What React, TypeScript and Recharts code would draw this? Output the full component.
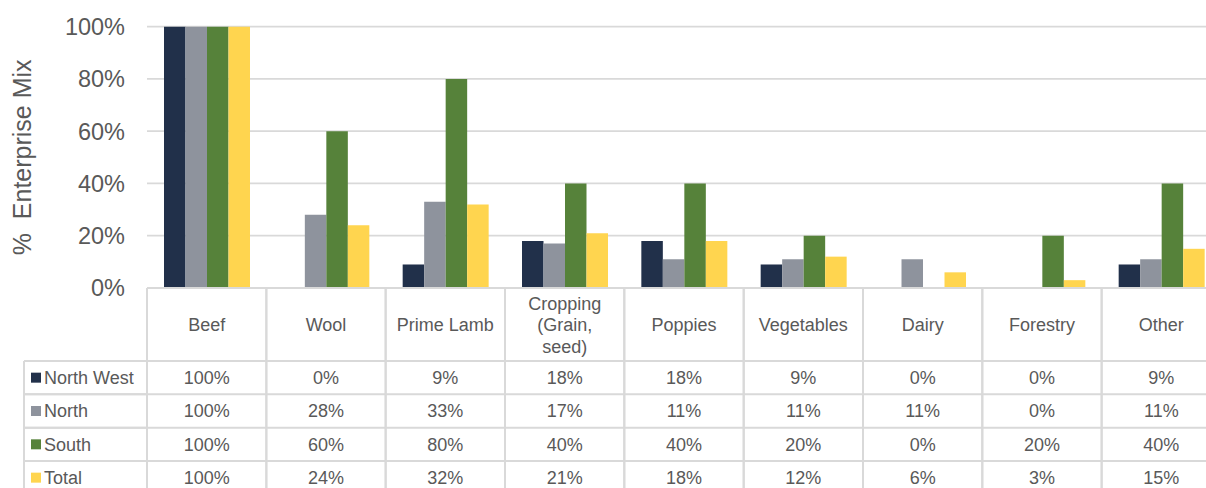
import React from 'react';
import { BarChart, Bar, XAxis, YAxis, CartesianGrid } from 'recharts';

const categories = ['Beef', 'Wool', 'Prime Lamb', 'Cropping\n(Grain,\nseed)', 'Poppies', 'Vegetables', 'Dairy', 'Forestry', 'Other'];
const northWest = [100, 0, 9, 18, 18, 9, 0, 0, 9];
const north = [100, 28, 33, 17, 11, 11, 11, 0, 11];
const south = [100, 60, 80, 40, 40, 20, 0, 20, 40];
const total = [100, 24, 32, 21, 18, 12, 6, 3, 15];
const yTicks = [0, 20, 40, 60, 80, 100];

const seriesNames = ['North West', 'North', 'South', 'Total'];
const seriesKeys = ['northWest', 'north', 'south', 'total'];
const seriesColors = ['#21304a', '#8e939d', '#56823a', '#ffd54f'];

const data = categories.map((name, i) => ({
  name,
  northWest: northWest[i],
  north: north[i],
  south: south[i],
  total: total[i],
}));

const FONT = '"Liberation Sans", Arial, sans-serif';
const TEXT = '#595959';
const LINE = '#d9d9d9';
const HEADER_H = 73;
const ROW_H = 33.33;
const LEGEND_LEFT = 24;

const TableColumn = (props: any) => {
  const { x, y, payload, width } = props;
  const idx = categories.indexOf(payload.value);
  const band = (width || 1074) / categories.length;
  const left = x - band / 2;
  const right = x + band / 2;
  const lines = String(payload.value).split('\n');
  const lineH = 21.4;
  const headerMid = y + 37;
  const bottom = y + HEADER_H + ROW_H * seriesKeys.length + 10;

  return (
    <g fontFamily={FONT}>
      <line x1={left} y1={y} x2={left} y2={bottom} stroke={LINE} strokeWidth={2} />
      <line x1={right} y1={y} x2={right} y2={bottom} stroke={LINE} strokeWidth={2} />
      {lines.map((l, k) => (
        <text
          key={k}
          x={x}
          y={headerMid + (k - (lines.length - 1) / 2) * lineH + 6.3}
          textAnchor="middle"
          fontSize={18}
          fill={TEXT}
        >
          {l}
        </text>
      ))}
      {seriesKeys.map((key, r) => {
        const rowTop = y + HEADER_H + r * ROW_H;
        return (
          <g key={key}>
            <line x1={left} y1={rowTop} x2={right} y2={rowTop} stroke={LINE} strokeWidth={2} />
            <text x={x} y={rowTop + ROW_H / 2 + 6.3} textAnchor="middle" fontSize={18} fill={TEXT}>
              {(data[idx] as any)[key]}%
            </text>
          </g>
        );
      })}
      {idx === 0 && (
        <g>
          <line x1={LEGEND_LEFT} y1={y + HEADER_H} x2={LEGEND_LEFT} y2={bottom} stroke={LINE} strokeWidth={2} />
          {seriesKeys.map((key, r) => {
            const rowTop = y + HEADER_H + r * ROW_H;
            return (
              <g key={key}>
                <line x1={LEGEND_LEFT} y1={rowTop} x2={left} y2={rowTop} stroke={LINE} strokeWidth={2} />
                <line x1={LEGEND_LEFT} y1={rowTop + ROW_H} x2={left} y2={rowTop + ROW_H} stroke={LINE} strokeWidth={2} />
                <rect x={31} y={rowTop + ROW_H / 2 - 5} width={10} height={10} fill={seriesColors[r]} />
                <text x={44} y={rowTop + ROW_H / 2 + 6.3} fontSize={18} fill={TEXT}>
                  {seriesNames[r]}
                </text>
              </g>
            );
          })}
        </g>
      )}
    </g>
  );
};

const YLabel = (props: any) => {
  const { viewBox } = props;
  const cy = viewBox.y + viewBox.height / 2;
  return (
    <text
      x={22}
      y={cy}
      transform={`rotate(-90, 22, ${cy})`}
      textAnchor="middle"
      dominantBaseline="central"
      fontSize={25}
      fontFamily={FONT}
      fill={TEXT}
      style={{ whiteSpace: 'pre' }}
    >
      {'%  Enterprise Mix'}
    </text>
  );
};

export default function App() {
  return (
    <div
      style={{
        position: 'absolute',
        left: 0,
        top: 0,
        width: 1206,
        height: 488,
        overflow: 'hidden',
        background: '#fff',
        fontFamily: FONT,
      }}
    >
      <BarChart
        width={1221}
        height={500}
        data={data}
        margin={{ top: 26.7, right: 0, bottom: 0, left: 0 }}
        barGap={0}
        barSize={21.5}
      >
        <CartesianGrid vertical={false} stroke={LINE} strokeWidth={1.75} />
        <YAxis
          width={147}
          domain={[0, 100]}
          ticks={yTicks}
          tickFormatter={(v: number) => `${v}%`}
          axisLine={false}
          tickLine={false}
          tickSize={0}
          tickMargin={22}
          tick={{ fontSize: 23.5, fill: TEXT, fontFamily: FONT }}
          label={<YLabel />}
        />
        <XAxis
          dataKey="name"
          height={212}
          interval={0}
          axisLine={{ stroke: LINE, strokeWidth: 2 }}
          tickLine={false}
          tickSize={0}
          tickMargin={0}
          tick={(p: any) => <TableColumn {...p} />}
        />
        {seriesKeys.map((key, i) => (
          <Bar key={key} dataKey={key} name={seriesNames[i]} fill={seriesColors[i]} isAnimationActive={false} />
        ))}
      </BarChart>
    </div>
  );
}
